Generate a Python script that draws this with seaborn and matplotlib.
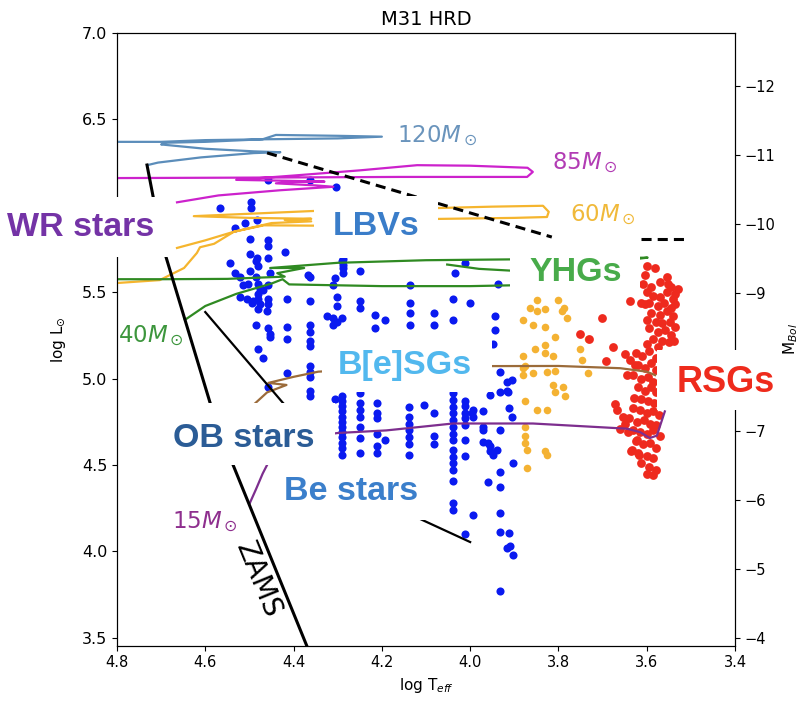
import matplotlib
matplotlib.use("Agg")
import numpy as np
import pandas as pd
import matplotlib.pyplot as plt
from matplotlib.patches import Rectangle
import seaborn as sns

# ---------------------------------------------------------
# data (log Teff, log L) read off the M31 HRD
# ---------------------------------------------------------
MBOL_SUN = 4.74
xlim = (4.8, 3.4)
ylim = (3.454, 7.0)
xticks = [4.8, 4.6, 4.4, 4.2, 4.0, 3.8, 3.6, 3.4]
yticks = [3.5, 4.0, 4.5, 5.0, 5.5, 6.0, 6.5, 7.0]
ytick_labels = ["3.5", "4.0", "4.5", "5.0", "5.5", "", "6.5", "7.0"]  # 6.0 sits under the WR box
mbol_ticks = [-12, -11, -10, -9, -8, -7, -6, -5, -4]
mbol_labels = ["\u221212", "\u221211", "\u221210", "\u22129", "", "\u22127", "\u22126",
               "\u22125", "\u22124"]  # -8 sits under the RSG box

# hot stars, scattered part
blue_logT = [4.457, 4.362, 4.303,
             4.566, 4.497, 4.497, 4.532, 4.509, 4.483, 4.498, 4.457, 4.457, 4.419,
             4.498, 4.483, 4.457, 4.543, 4.362, 4.288, 4.288, 4.250, 4.137,
             4.484, 4.480, 4.499, 4.533, 4.521, 4.453, 4.484, 4.503, 4.514, 4.480,
             4.457, 4.476, 4.469, 4.480, 4.521, 4.506, 4.491, 4.480, 4.457, 4.495,
             4.476, 4.457, 4.480, 4.461, 4.484, 4.457, 4.453, 4.453, 4.480, 4.469,
             4.416, 4.416, 4.416, 4.416, 4.457, 4.367,
             4.291, 4.287, 4.287, 4.306, 4.310, 4.302, 4.302, 4.325, 4.310, 4.291,
             4.302, 4.310,
             4.250, 4.250, 4.216, 4.193, 4.216,
             4.136, 4.136, 4.136, 4.083, 4.083, 4.038, 4.038, 4.000, 3.944, 3.944,
             3.948, 4.034, 4.012, 3.936, 3.905, 3.915,
             4.306, 4.193, 4.105, 3.948, 3.959, 3.913, 3.906, 3.904, 3.913, 3.910,
             3.902, 3.996, 3.940, 3.959]
blue_logL = [6.15, 6.15, 6.11,
             5.99, 6.02, 5.99, 5.87, 5.90, 5.92, 5.81, 5.80, 5.77, 5.73,
             5.72, 5.70, 5.70, 5.67, 5.59, 5.69, 5.66, 5.62, 5.54,
             5.68, 5.65, 5.62, 5.61, 5.59, 5.61, 5.59, 5.55, 5.54, 5.55,
             5.54, 5.52, 5.51, 5.49, 5.47, 5.46, 5.45, 5.46, 5.46, 5.44,
             5.43, 5.43, 5.40, 5.39, 5.31, 5.29, 5.26, 5.24, 5.17, 5.12,
             5.46, 5.30, 5.23, 5.03, 4.95, 5.60,
             5.68, 5.64, 5.61, 5.58, 5.54, 5.47, 5.42, 5.36, 5.35, 5.35,
             5.33, 5.31,
             5.45, 5.41, 5.37, 5.34, 5.29,
             5.44, 5.38, 5.31, 5.38, 5.31, 5.46, 5.34, 5.44, 5.36, 5.28,
             5.20, 5.61, 5.67, 5.55, 4.99, 4.92,
             4.88, 4.645, 4.847, 4.56, 4.40, 4.83, 4.78, 4.51, 4.105, 4.03,
             3.98, 4.80, 4.587, 4.625]

# hot stars sitting in spectral-type columns
blue_col_T = [4.363, 4.291, 4.250, 4.212, 4.138, 4.082, 4.038, 4.012, 3.993,
              3.970, 3.955, 3.932, 3.917]
blue_col_L = [
    [5.45, 5.31, 5.27, 5.22, 5.19, 5.07, 5.04, 5.01, 4.93, 4.90],
    [4.90, 4.87, 4.84, 4.81, 4.78, 4.75, 4.72, 4.69, 4.66, 4.63, 4.60, 4.56],
    [4.915, 4.857, 4.818, 4.780, 4.722, 4.655, 4.568],
    [4.857, 4.80, 4.77, 4.68, 4.61, 4.57],
    [4.837, 4.78, 4.74, 4.70, 4.66, 4.62, 4.56],
    [4.80, 4.67, 4.62],
    [4.915, 4.876, 4.837, 4.80, 4.76, 4.72, 4.68, 4.645, 4.587, 4.548, 4.51,
     4.47, 4.41, 4.28, 4.24],
    [4.87, 4.84, 4.80, 4.77, 4.73, 4.645, 4.55, 4.10],
    [4.82, 4.78, 4.21],
    [4.81, 4.72, 4.70, 4.635],
    [4.905, 4.61, 4.58],
    [5.04, 4.92, 4.70, 4.46, 4.375, 4.22, 4.11, 3.77],
    [4.98, 4.93, 4.02],
]

# yellow supergiants
yellow_logT = [3.849, 3.800, 3.849, 3.830, 3.793, 3.781, 3.880, 3.857, 3.830, 3.808,
               3.733, 3.751, 3.853, 3.830, 3.830, 3.812, 3.881, 3.747, 3.880, 3.857,
               3.827, 3.808, 3.733, 3.880, 3.812, 3.790, 3.808, 3.785, 3.876, 3.849,
               3.827, 3.876, 3.876, 3.876, 3.872, 3.830, 3.827, 3.872, 3.876, 3.865,
               3.787]
yellow_logL = [5.455, 5.455, 5.39, 5.40, 5.39, 5.35, 5.34, 5.31, 5.30, 5.24,
               5.23, 5.17, 5.17, 5.195, 5.15, 5.13, 5.13, 5.11, 5.06, 5.03,
               5.04, 5.045, 5.03, 5.02, 4.96, 4.95, 4.92, 4.90, 4.87, 4.82,
               4.82, 4.72, 4.67, 4.625, 4.587, 4.58, 4.56, 4.48, 5.07, 5.41,
               5.41]

# red supergiants
red_logT = [3.600, 3.581, 3.604, 3.608, 3.555, 3.551, 3.536, 3.638, 3.612, 3.604,
            3.702, 3.751, 3.730, 3.676, 3.649, 3.692, 3.638, 3.627, 3.645, 3.672,
            3.668, 3.653, 3.649, 3.661, 3.642, 3.623, 3.634, 3.619, 3.570, 3.545,
            3.590,
            3.600, 3.585, 3.570, 3.555, 3.540, 3.530, 3.595, 3.575, 3.560, 3.545,
            3.535, 3.590, 3.570, 3.555, 3.540, 3.600, 3.580, 3.565, 3.548, 3.535,
            3.595, 3.575, 3.558, 3.545, 3.585, 3.565, 3.550, 3.538, 3.600, 3.575,
            3.625, 3.610, 3.595, 3.580, 3.620, 3.605, 3.590, 3.578, 3.630, 3.612,
            3.598, 3.585, 3.620, 3.605, 3.590, 3.578, 3.628, 3.612, 3.598, 3.583,
            3.630, 3.615, 3.600, 3.585, 3.572, 3.640, 3.622, 3.607, 3.592, 3.578,
            3.632, 3.615, 3.600, 3.585, 3.570, 3.625, 3.608, 3.593, 3.578, 3.635,
            3.618, 3.600, 3.585, 3.612, 3.595, 3.580, 3.600, 3.585]
red_logL = [5.65, 5.64, 5.60, 5.55, 5.59, 5.55, 5.49, 5.45, 5.44, 5.43,
            5.35, 5.26, 5.23, 5.185, 5.14, 5.10, 5.11, 5.08, 5.02, 4.85,
            4.82, 4.78, 4.74, 4.71, 4.69, 4.645, 4.587, 4.57, 5.56, 5.53,
            5.53,
            5.50, 5.48, 5.47, 5.50, 5.46, 5.52, 5.44, 5.42, 5.44, 5.41,
            5.43, 5.38, 5.37, 5.39, 5.36, 5.34, 5.33, 5.32, 5.33, 5.30,
            5.29, 5.27, 5.28, 5.25, 5.23, 5.22, 5.21, 5.22, 5.20, 5.18,
            5.15, 5.13, 5.16, 5.12, 5.08, 5.06, 5.09, 5.05, 5.02, 5.00,
            5.01, 4.98, 4.95, 4.93, 4.95, 4.92, 4.89, 4.88, 4.87, 4.86,
            4.83, 4.82, 4.80, 4.81, 4.79, 4.77, 4.75, 4.76, 4.74, 4.73,
            4.70, 4.69, 4.68, 4.70, 4.67, 4.64, 4.62, 4.63, 4.60, 4.58,
            4.56, 4.55, 4.54, 4.51, 4.49, 4.47, 4.45, 4.44]

# evolutionary tracks
t120_logT = [4.730, 4.707, 4.61, 4.49, 4.43, 4.49, 4.60, 4.70, 4.69, 4.60,
             4.47, 4.44, 4.30, 4.20, 4.30, 4.46, 4.60, 4.70, 4.85]
t120_logL = [6.236, 6.25, 6.28, 6.305, 6.31, 6.315, 6.33, 6.355, 6.365, 6.37,
             6.385, 6.41, 6.405, 6.40, 6.39, 6.385, 6.38, 6.37, 6.37]

t85_logT = [4.664, 4.57, 4.43, 4.31, 4.35, 4.44, 4.40, 4.33, 4.42, 4.53,
            4.40, 4.25, 4.12, 4.00, 3.87, 3.858, 3.871, 4.16, 4.50, 4.85]
t85_logL = [6.02, 6.06, 6.09, 6.11, 6.118, 6.13, 6.138, 6.14, 6.145, 6.15,
            6.175, 6.205, 6.235, 6.232, 6.22, 6.196, 6.167, 6.167, 6.163, 6.16]

t60_logT = [4.664, 4.60, 4.535, 4.467, 4.354, 4.20, 4.073, 3.90, 3.826, 3.822,
            3.835, 3.95, 4.073, 4.354, 4.626, 4.50, 4.36, 4.42, 4.36, 4.45,
            4.535, 4.58, 4.612, 4.619, 4.648, 4.703, 4.80, 4.85]
t60_logL = [5.756, 5.80, 5.85, 5.887, 5.885, 5.90, 5.924, 5.93, 5.935, 5.965,
            6.00, 5.995, 5.987, 5.97, 5.94, 5.93, 5.925, 5.918, 5.91, 5.90,
            5.85, 5.78, 5.76, 5.727, 5.64, 5.57, 5.553, 5.55]

t40_logT = [4.646, 4.60, 4.53, 4.45, 4.425, 4.41, 4.20, 4.00, 3.90, 3.70,
            3.63, 3.63, 3.598, 3.70, 3.90, 4.10, 4.30, 4.453, 4.376, 4.437,
            4.42, 4.55, 4.70, 4.85]
t40_logL = [5.34, 5.42, 5.49, 5.55, 5.575, 5.545, 5.535, 5.535, 5.54, 5.55,
            5.60, 5.69, 5.70, 5.695, 5.69, 5.685, 5.67, 5.64, 5.64, 5.61,
            5.59, 5.577, 5.575, 5.575]
t40b_logT = [4.052, 3.98, 3.91, 3.75, 3.63]
t40b_logL = [5.66, 5.635, 5.625, 5.62, 5.625]

t25_logT = [4.487, 4.46, 4.416, 4.457, 4.40, 4.344, 4.20, 4.00, 3.80, 3.66,
            3.60, 3.581]
t25_logL = [4.857, 4.92, 4.963, 4.975, 5.01, 5.04, 5.06, 5.072, 5.073, 5.06,
            5.04, 5.02]

t15_logT = [4.499, 4.485, 4.47, 4.45, 4.40, 4.30, 4.19, 4.114, 4.039, 3.858,
            3.645, 3.615, 3.593, 3.577, 3.559]
t15_logL = [4.28, 4.36, 4.45, 4.55, 4.65, 4.685, 4.70, 4.72, 4.74, 4.74,
            4.71, 4.69, 4.656, 4.67, 4.81]

zams_logT = [4.732, 4.718, 4.689, 4.589, 4.537, 4.370, 4.35]
zams_logL = [6.236, 6.051, 5.704, 4.859, 4.50, 3.453, 3.33]
line2_logT = [4.60, 4.424, 4.40]
line2_logL = [5.385, 4.859, 4.80]
line3_logT = [4.16, 4.118, 4.00]
line3_logL = [4.245, 4.193, 4.054]

hd_logT = [4.460, 3.815]
hd_logL = [6.306, 5.819]
hd2_logT = [3.612, 3.506]
hd2_logL = [5.806, 5.806]

# mass labels: text, logT, logL (baseline), colour
mass_text = [r"120$M_\odot$", r"85$M_\odot$", r"60$M_\odot$", r"40$M_\odot$", r"15$M_\odot$"]
mass_logT = [4.166, 3.815, 3.774, 4.798, 4.675]
mass_logL = [6.363, 6.207, 5.906, 5.206, 4.130]
mass_color = ["#6a94bc", "#b23cb4", "#f0b93a", "#3d963d", "#8e2f8e"]

# class labels: text, logT, logL (centre), colour
cls_text = ["WR stars", "LBVs", "YHGs", "B[e]SGs", "RSGs", "OB stars", "Be stars"]
cls_logT = [4.8815, 4.214, 3.760, 4.148, 3.421, 4.512, 4.270]
cls_logL = [5.877, 5.88, 5.614, 5.076, 4.975, 4.656, 4.344]
cls_color = ["#7433a6", "#3a7dc9", "#48ab4a", "#52b8ee", "#ee2b1c", "#2b5c96", "#3b7fcb"]
cls_size = [24.5, 24.5, 24.5, 24.5, 26, 24.5, 24.5]

# white backing boxes behind the class labels (logT0, logT1, logL0, logL1)
box_T0 = [5.08, 4.354, 3.910, 4.336, 3.577, 4.721, 4.453]
box_T1 = [4.680, 4.073, 3.615, 3.950, 3.298, 4.306, 4.068]
box_L0 = [5.704, 5.698, 5.513, 4.922, 4.818, 4.500, 4.182]
box_L1 = [6.051, 6.057, 5.773, 5.252, 5.165, 4.859, 4.517]

# ---------------------------------------------------------
# build tables
# ---------------------------------------------------------
col_T, col_L = [], []
for t, ls in zip(blue_col_T, blue_col_L):
    col_T += [t] * len(ls)
    col_L += ls
blue_df = pd.DataFrame({"logT": blue_logT + col_T, "logL": blue_logL + col_L})
yellow_df = pd.DataFrame({"logT": yellow_logT, "logL": yellow_logL})
red_df = pd.DataFrame({"logT": red_logT, "logL": red_logL})

# ---------------------------------------------------------
# plot
# ---------------------------------------------------------
fig, ax = plt.subplots(figsize=(8.04, 7.05), dpi=100)
fig.subplots_adjust(left=0.1455, right=0.9142, bottom=0.0841, top=0.9532)

sns.scatterplot(data=blue_df, x="logT", y="logL", color="#0a1af0", s=34,
                linewidth=0, ax=ax, zorder=2)
sns.scatterplot(data=yellow_df, x="logT", y="logL", color="#f4b233", s=30,
                linewidth=0, ax=ax, zorder=2)
sns.scatterplot(data=red_df, x="logT", y="logL", color="#ee2a1e", s=40,
                linewidth=0, ax=ax, zorder=2)

tracks = [
    (t120_logT, t120_logL, "#5b8dba"),
    (t85_logT, t85_logL, "#cc22cc"),
    (t60_logT, t60_logL, "#f5b52e"),
    (t40_logT, t40_logL, "#2f8a22"),
    (t40b_logT, t40b_logL, "#2f8a22"),
    (t25_logT, t25_logL, "#9b6b3a"),
    (t15_logT, t15_logL, "#7d2e8e"),
]
for xs, ys, c in tracks:
    sns.lineplot(x=xs, y=ys, sort=False, estimator=None, color=c, lw=1.6,
                 ax=ax, zorder=3)

for xs, ys, lw in [(zams_logT, zams_logL, 2.2), (line2_logT, line2_logL, 1.6),
                   (line3_logT, line3_logL, 1.6)]:
    sns.lineplot(x=xs, y=ys, sort=False, estimator=None, color="black", lw=lw,
                 ax=ax, zorder=3)

for xs, ys in [(hd_logT, hd_logL), (hd2_logT, hd2_logL)]:
    sns.lineplot(x=xs, y=ys, sort=False, estimator=None, color="black", lw=2.2,
                 ax=ax, zorder=3)
    ax.lines[-1].set_dashes((3.3, 2.0))

for s, x, y, c in zip(mass_text, mass_logT, mass_logL, mass_color):
    ax.text(x, y, s, color=c, fontsize=16.5, ha="left", va="baseline", zorder=5)

ax.text(4.481, 3.834, "ZAMS", fontsize=20, rotation=-67.8, rotation_mode="anchor",
        ha="center", va="center", zorder=5)

ax.set_xlim(*xlim)
ax.set_ylim(*ylim)
ax.set_xticks(xticks)
ax.set_yticks(yticks, labels=ytick_labels)
ax.tick_params(labelsize=10.5)
ax.tick_params(axis="y", labelsize=11.5)
ax.set_xlabel(r"log T$_{eff}$", fontsize=11)
ax.set_ylabel(r"log L$_{\odot}$", fontsize=11, labelpad=10)
ax.set_title("M31 HRD", fontsize=14)

ax2 = ax.twinx()
ax2.set_ylim(MBOL_SUN - 2.5 * ylim[0], MBOL_SUN - 2.5 * ylim[1])
ax2.set_yticks(mbol_ticks, labels=mbol_labels)
ax2.tick_params(labelsize=10.5)
ax2.set_ylabel(r"M$_{Bol}$", fontsize=11)

# white label boxes sit on top of everything, spines included
for t0, t1, l0, l1 in zip(box_T0, box_T1, box_L0, box_L1):
    ax2.add_patch(Rectangle((t0, l0), t1 - t0, l1 - l0, transform=ax.transData,
                            fc="white", ec="none", zorder=9, clip_on=False))
for s, x, y, c, fs in zip(cls_text, cls_logT, cls_logL, cls_color, cls_size):
    ax2.text(x, y, s, transform=ax.transData, color=c, fontsize=fs,
             fontweight="bold", family=["Liberation Sans", "DejaVu Sans"],
             ha="center", va="center", zorder=10)

fig.savefig("out.png", dpi=100)
